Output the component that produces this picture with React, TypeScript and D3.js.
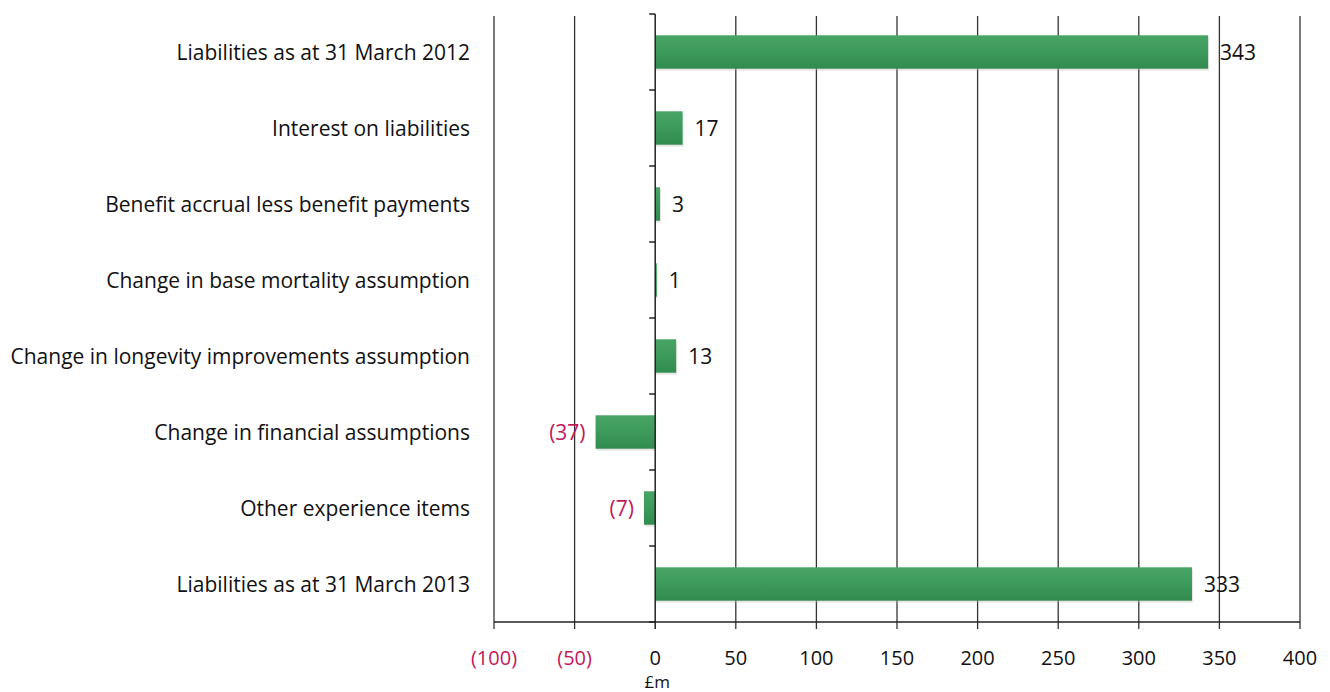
import React from "react";
import * as d3 from "d3";

const categories = [
  "Liabilities as at 31 March 2012",
  "Interest on liabilities",
  "Benefit accrual less benefit payments",
  "Change in base mortality assumption",
  "Change in longevity improvements assumption",
  "Change in financial assumptions",
  "Other experience items",
  "Liabilities as at 31 March 2013",
];
const values = [343, 17, 3, 1, 13, -37, -7, 333];
const tickValues = [-100, -50, 0, 50, 100, 150, 200, 250, 300, 350, 400];
const axisTitle = "£m";

const W = 1330;
const H = 692;
const FONT = "'Open Sans', Lato, sans-serif";
const NEG = "#c2185b";

const fmt = (v: number) => (v < 0 ? `(${Math.abs(v)})` : `${v}`);

export default function App() {
  const x = d3.scaleLinear().domain([-100, 400]).range([494, 1300]);
  const y = d3.scaleBand<string>().domain(categories).range([14, 622]).paddingInner(0.56).paddingOuter(0.28);
  const x0 = x(0);
  const plotTop = 14;
  const plotBottom = 622;
  const catTicks = d3.range(categories.length + 1).map((i) => plotTop + i * (plotBottom - plotTop) / categories.length);

  return (
    <svg width={W} height={H} style={{ position: "absolute", left: 0, top: 0, background: "#fff" }} fontFamily={FONT}>
      <defs>
        <linearGradient id="barGrad" x1="0" y1="0" x2="0" y2="1">
          <stop offset="0" stopColor="#48a565" />
          <stop offset="0.5" stopColor="#3c9a5b" />
          <stop offset="1" stopColor="#318b4f" />
        </linearGradient>
      </defs>
      {/* vertical grid lines */}
      {tickValues.filter((t) => t !== 0).map((t) => (
        <line key={`g${t}`} x1={x(t)} x2={x(t)} y1={plotTop + 2} y2={plotBottom + 7} stroke="#333" strokeWidth={1.3} />
      ))}
      {/* bottom axis */}
      <line x1={x(-100)} x2={x(400)} y1={plotBottom} y2={plotBottom} stroke="#222" strokeWidth={1.5} />
      {/* bars */}
      {categories.map((c, i) => {
        const v = values[i];
        const y0 = y(c)!;
        const bx = Math.min(x(0), x(v));
        const bw = Math.abs(x(v) - x(0));
        return (
          <g key={c}>
            <rect x={bx + 1} y={y0 + 2} width={Math.max(bw, 1.5)} height={y.bandwidth()} fill="#bbb" opacity={0.35} />
            <rect x={bx} y={y0} width={Math.max(bw, 1.5)} height={y.bandwidth()} fill="url(#barGrad)" />
          </g>
        );
      })}
      {/* zero axis */}
      <line x1={x0} x2={x0} y1={plotTop} y2={plotBottom + 7} stroke="#222" strokeWidth={1.5} />
      {catTicks.map((t, i) => (
        <line key={`ct${i}`} x1={x0 - 6} x2={x0} y1={t} y2={t} stroke="#222" strokeWidth={1.5} />
      ))}
      {/* category labels */}
      {categories.map((c) => (
        <text key={`l${c}`} x={470} y={y(c)! + y.bandwidth() / 2} textAnchor="end" dominantBaseline="central" fontSize={21} fill="#111">
          {c}
        </text>
      ))}
      {/* value labels */}
      {categories.map((c, i) => {
        const v = values[i];
        const pos = v >= 0;
        return (
          <text
            key={`v${c}`}
            x={pos ? x(v) + 12 : x(v) - 10}
            y={y(c)! + y.bandwidth() / 2}
            textAnchor={pos ? "start" : "end"}
            dominantBaseline="central"
            fontSize={21}
            fill={pos ? "#111" : NEG}
          >
            {fmt(v)}
          </text>
        );
      })}
      {/* tick labels */}
      {tickValues.map((t) => (
        <text key={`t${t}`} x={x(t)} y={657} textAnchor="middle" dominantBaseline="central" fontSize={20} fill={t < 0 ? NEG : "#111"}>
          {fmt(t)}
        </text>
      ))}
      <text x={x0 + 2} y={681} textAnchor="middle" dominantBaseline="central" fontSize={17} fill="#111">
        {axisTitle}
      </text>
    </svg>
  );
}
